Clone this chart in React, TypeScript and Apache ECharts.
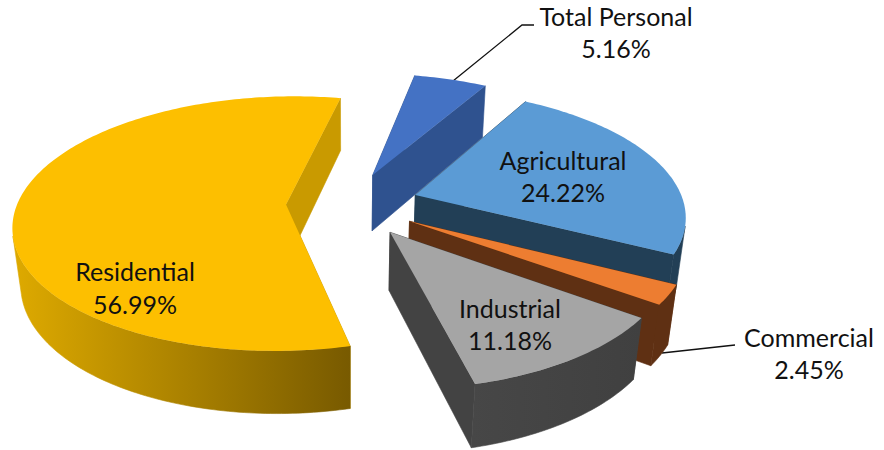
import React, { useEffect, useRef } from "react";
import * as echarts from "echarts";

const categories = ["Total Personal", "Agricultural", "Commercial", "Industrial", "Residential"];
const shares = [5.16, 24.22, 2.45, 11.18, 56.99];

const topColors = ["#4472C4", "#5B9BD5", "#ED7D31", "#A5A5A5", "#FDBF00"];
const cutColors = ["#2F528F", "#223F56", "#5F3013", "#434343", "#C99A00"];
const wallFrom = ["#2F528F", "#223F56", "#5F3013", "#474747", "#DEAA00"];
const wallTo = ["#2F528F", "#223F56", "#5F3013", "#404040", "#785A00"];
const explode = [0.262, 0.263, 0.262, 0.268, 0.237];
const labelAt = [
  [616, 32],
  [563, 176],
  [809, 353],
  [510, 324],
  [135, 287.5],
];
const leaders = [
  [[453, 81], [522, 25], [534, 25]],
  [[662, 353], [735, 345]],
];

// Perspective projection of the pie's disc onto the page.
const firstAngle = 11.4;
const radius = 1.012;
const cam = { ox: 349, oy: 204, a: 122.8, b: 265.6, k: 0.1475, m: 0.025, h: 58.5 };
const project = (X: number, Y: number, Z: number) => {
  const w = 1 - cam.k * Y + cam.m * Z;
  return [cam.ox + (cam.b * X) / w, cam.oy + (cam.a * Y + cam.h * Z) / w];
};

const total = shares.reduce((s, v) => s + v, 0);

function renderSlice(params: any, api: any) {
  const i = params.dataIndex;
  const value = api.value(0);
  const before = shares.slice(0, i).reduce((s, v) => s + v, 0);
  const start = firstAngle + (before / total) * 360;
  const end = start + (value / total) * 360;
  const mid = (((start + end) / 2) * Math.PI) / 180;
  const ex = explode[i] * Math.sin(mid);
  const ey = -explode[i] * Math.cos(mid);
  const rim = (deg: number, z: number) => {
    const t = (deg * Math.PI) / 180;
    return project(ex + radius * Math.sin(t), ey - radius * Math.cos(t), z);
  };
  const steps = Math.max(8, Math.ceil(end - start));
  const angles: number[] = [];
  for (let s = 0; s <= steps; s++) angles.push(start + ((end - start) * s) / steps);

  const topRim = angles.map((d) => rim(d, 0));
  const apexTop = project(ex, ey, 0);
  const apexBottom = project(ex, ey, 1);
  const cut = (deg: number) => [apexTop, rim(deg, 0), rim(deg, 1), apexBottom];

  // Keep only the part of the outer wall that faces the viewer.
  const front: number[] = [];
  for (let s = 0; s < steps; s++) {
    const p = rim(angles[s], 0);
    const q = rim(angles[s + 1], 0);
    const d = rim(angles[s], 1);
    const cross = (q[0] - p[0]) * (d[1] - p[1]) - (q[1] - p[1]) * (d[0] - p[0]);
    if (cross < 0) {
      if (!front.length) front.push(angles[s]);
      front.push(angles[s + 1]);
    }
  }
  const cutStyle = { fill: cutColors[i], stroke: cutColors[i], lineWidth: 0.6 };
  const children: any[] = [
    { type: "polygon", shape: { points: cut(start) }, style: cutStyle },
    { type: "polygon", shape: { points: cut(end) }, style: cutStyle },
  ];
  if (front.length) {
    const pts = front.map((d) => rim(d, 0)).concat(front.slice().reverse().map((d) => rim(d, 1)));
    const gradient = () =>
      new echarts.graphic.LinearGradient(0, 0, 1, 0, [
        { offset: 0, color: wallFrom[i] },
        { offset: 1, color: wallTo[i] },
      ]);
    children.push({
      type: "polygon",
      shape: { points: pts },
      style: { fill: gradient(), stroke: gradient(), lineWidth: 0.6 },
    });
  }
  children.push({
    type: "polygon",
    shape: { points: [apexTop, ...topRim] },
    style: { fill: topColors[i] },
  });
  children.push({
    type: "text",
    style: {
      text: `${categories[i]}\n${value.toFixed(2)}%`,
      x: labelAt[i][0],
      y: labelAt[i][1],
      align: "center",
      verticalAlign: "middle",
      font: "25px Lato, sans-serif",
      lineHeight: 32.5,
      fill: "#111111",
    },
  });
  return { type: "group", children };
}

export default function App() {
  const ref = useRef<HTMLDivElement>(null);
  useEffect(() => {
    const chart = echarts.init(ref.current!, null, { renderer: "svg" });
    chart.setOption({
      animation: false,
      backgroundColor: "#ffffff",
      graphic: leaders.map((points) => ({
        type: "polyline",
        shape: { points },
        style: { stroke: "#111111", lineWidth: 1.3, fill: "none" },
      })),
      series: [
        {
          type: "custom",
          coordinateSystem: "none",
          silent: true,
          renderItem: renderSlice,
          data: shares.map((v, i) => ({ name: categories[i], value: [v] })),
        },
      ],
    });
    return () => chart.dispose();
  }, []);
  return <div ref={ref} style={{ position: "absolute", left: 0, top: 0, width: 884, height: 450 }} />;
}
